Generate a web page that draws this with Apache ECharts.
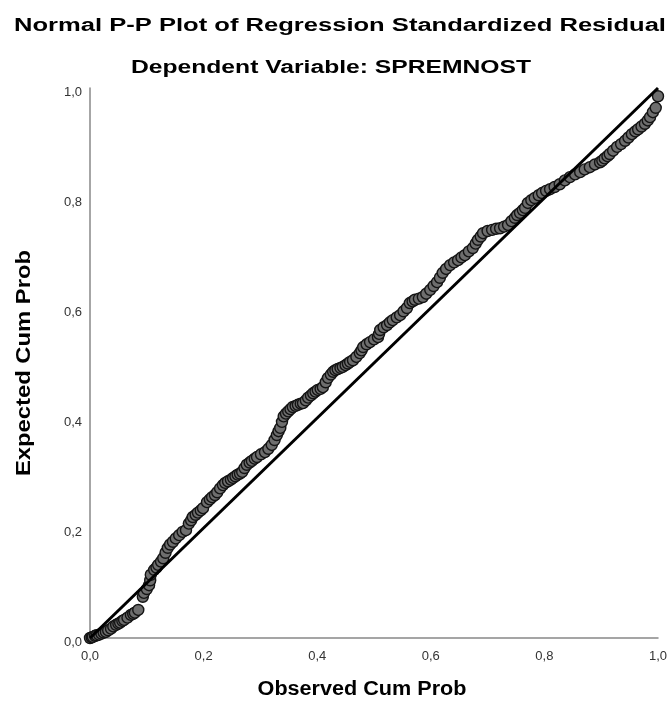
<!DOCTYPE html>
<html>
<head>
<meta charset="utf-8">
<script src="https://cdn.jsdelivr.net/npm/echarts@6/dist/echarts.min.js"></script>
<style>
html,body{margin:0;padding:0;background:#fff;}
#chart{width:672px;height:708px;}
</style>
</head>
<body>
<div id="chart"></div>
<script>
// Observed cumulative probability (x) and expected cumulative probability (y) of residuals
const observedCumProb = [
0.000,0.003,0.005,0.009,0.012,0.016,0.020,0.024,0.028,0.032,
0.037,0.041,0.046,0.050,0.053,0.057,0.060,0.066,0.072,0.076,
0.079,0.085,0.093,0.095,0.100,0.104,0.106,0.107,0.113,0.117,
0.120,0.125,0.129,0.133,0.137,0.141,0.146,0.151,0.157,0.163,
0.169,0.174,0.178,0.181,0.186,0.190,0.195,0.199,0.206,0.211,
0.215,0.220,0.224,0.229,0.234,0.238,0.243,0.248,0.252,0.256,
0.260,0.264,0.268,0.272,0.276,0.281,0.285,0.290,0.294,0.301,
0.308,0.314,0.320,0.325,0.329,0.332,0.335,0.338,0.341,0.345,
0.349,0.353,0.357,0.362,0.366,0.371,0.375,0.380,0.384,0.389,
0.393,0.397,0.401,0.406,0.410,0.415,0.419,0.424,0.428,0.432,
0.436,0.441,0.445,0.450,0.454,0.458,0.463,0.469,0.475,0.478,
0.481,0.487,0.493,0.500,0.507,0.509,0.511,0.517,0.523,0.528,
0.533,0.540,0.546,0.552,0.558,0.563,0.568,0.572,0.579,0.586,
0.592,0.599,0.605,0.611,0.616,0.621,0.627,0.634,0.641,0.648,
0.654,0.660,0.667,0.674,0.679,0.683,0.688,0.692,0.700,0.708,
0.715,0.722,0.729,0.736,0.742,0.748,0.752,0.757,0.762,0.766,
0.771,0.777,0.783,0.790,0.796,0.803,0.810,0.818,0.827,0.836,
0.845,0.854,0.863,0.871,0.880,0.889,0.898,0.902,0.906,0.911,
0.915,0.921,0.928,0.935,0.942,0.948,0.954,0.960,0.965,0.971,
0.977,0.982,0.986,0.991,0.996,1.000
];
const expectedCumProb = [
0.000,0.001,0.002,0.004,0.005,0.006,0.008,0.010,0.011,0.014,
0.017,0.021,0.024,0.026,0.028,0.031,0.033,0.037,0.042,0.044,
0.046,0.051,0.075,0.082,0.089,0.096,0.105,0.115,0.124,0.128,
0.133,0.139,0.145,0.155,0.164,0.170,0.175,0.181,0.187,0.193,
0.196,0.208,0.214,0.220,0.224,0.228,0.232,0.236,0.247,0.252,
0.256,0.260,0.265,0.272,0.278,0.282,0.285,0.288,0.291,0.294,
0.297,0.299,0.302,0.309,0.315,0.319,0.322,0.326,0.329,0.334,
0.338,0.344,0.351,0.360,0.369,0.376,0.382,0.393,0.403,0.408,
0.412,0.416,0.420,0.422,0.424,0.426,0.427,0.432,0.437,0.441,
0.445,0.448,0.451,0.453,0.456,0.465,0.473,0.479,0.484,0.487,
0.489,0.491,0.493,0.496,0.499,0.502,0.505,0.511,0.518,0.523,
0.529,0.534,0.538,0.543,0.547,0.553,0.560,0.565,0.569,0.574,
0.578,0.583,0.587,0.594,0.600,0.609,0.612,0.615,0.617,0.620,
0.626,0.633,0.640,0.647,0.655,0.664,0.671,0.678,0.683,0.687,
0.692,0.696,0.703,0.709,0.717,0.724,0.730,0.736,0.740,0.742,
0.744,0.745,0.748,0.751,0.758,0.764,0.769,0.773,0.778,0.782,
0.791,0.796,0.800,0.805,0.809,0.813,0.816,0.820,0.825,0.832,
0.838,0.843,0.847,0.852,0.856,0.861,0.865,0.868,0.872,0.876,
0.880,0.886,0.893,0.898,0.904,0.910,0.916,0.921,0.925,0.930,
0.935,0.941,0.947,0.956,0.964,0.985
];
const referenceLine = [[0, 0], [1, 1]];
const xTickLabels = ['0,0', '0,2', '0,4', '0,6', '0,8', '1,0'];
const yTickLabels = ['0,0', '0,2', '0,4', '0,6', '0,8', '1,0'];
const titleText = 'Normal P-P Plot of Regression Standardized Residual';
const subtitleText = 'Dependent Variable: SPREMNOST';
const xAxisName = 'Observed Cum Prob';
const yAxisName = 'Expected Cum Prob';

const points = observedCumProb.map((x, i) => [x, expectedCumProb[i]]);
const FONT = 'Liberation Sans, Arial, sans-serif';

const chart = echarts.init(document.getElementById('chart'), null, {renderer: 'canvas'});
chart.setOption({
  backgroundColor: '#ffffff',
  animation: false,
  graphic: [
    {type: 'text', x: 340, y: 26, scaleX: 1.42, silent: true,
     style: {text: titleText, font: 'bold 18px ' + FONT, fill: '#000', align: 'center', verticalAlign: 'middle'}},
    {type: 'text', x: 331, y: 68, scaleX: 1.37, silent: true,
     style: {text: subtitleText, font: 'bold 18px ' + FONT, fill: '#000', align: 'center', verticalAlign: 'middle'}},
    {type: 'text', x: 362, y: 689, scaleX: 1.08, silent: true,
     style: {text: xAxisName, font: 'bold 20px ' + FONT, fill: '#000', align: 'center', verticalAlign: 'middle'}},
    {type: 'text', x: 24, y: 363, rotation: Math.PI / 2, scaleX: 1.19, silent: true,
     style: {text: yAxisName, font: 'bold 20px ' + FONT, fill: '#000', align: 'center', verticalAlign: 'middle'}}
  ],
  grid: {left: 90, right: 14, top: 88, bottom: 70, containLabel: false},
  xAxis: {
    type: 'value', min: 0, max: 1, interval: 0.2,
    axisLine: {show: true, lineStyle: {color: '#888', width: 1.5}},
    axisTick: {show: false},
    splitLine: {show: false},
    axisLabel: {fontFamily: FONT, fontSize: 13, color: '#333', margin: 12,
      formatter: v => xTickLabels[Math.round(v / 0.2)]}
  },
  yAxis: {
    type: 'value', min: 0, max: 1, interval: 0.2,
    axisLine: {show: true, lineStyle: {color: '#888', width: 1.5}},
    axisTick: {show: false},
    splitLine: {show: false},
    axisLabel: {fontFamily: FONT, fontSize: 13, color: '#333', margin: 8,
      verticalAlign: 'top', lineHeight: 8,
      formatter: v => yTickLabels[Math.round(v / 0.2)]}
  },
  series: [
    {
      type: 'scatter', data: points, symbol: 'circle', symbolSize: 11, z: 2,
      itemStyle: {color: '#6e6e6e', borderColor: '#141414', borderWidth: 1.4, opacity: 1}
    },
    {
      type: 'line', data: referenceLine, symbol: 'none', z: 3,
      lineStyle: {color: '#000', width: 3}
    }
  ]
});
</script>
</body>
</html>
